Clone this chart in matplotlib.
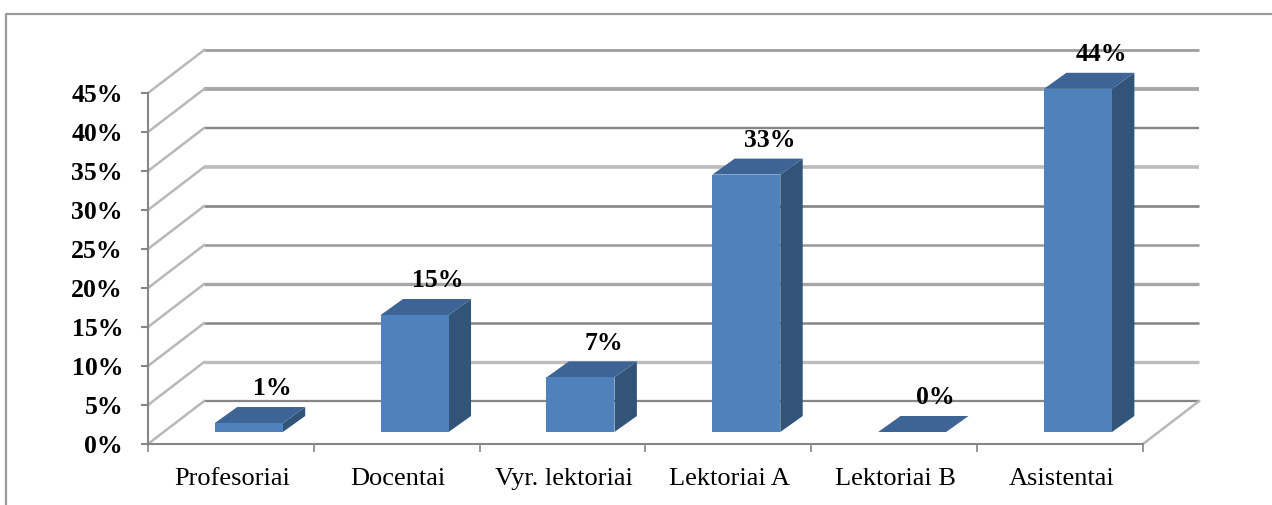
import matplotlib
matplotlib.use('Agg')
import matplotlib.pyplot as plt
from matplotlib.lines import Line2D

plt.rcParams['font.family'] = ['Liberation Serif', 'DejaVu Serif']

# Data
categories = ['Profesoriai', 'Docentai', 'Vyr. lektoriai', 'Lektoriai A', 'Lektoriai B', 'Asistentai']
values = [1.15, 15, 7, 33, 0, 44]
value_labels = ['1%', '15%', '7%', '33%', '0%', '44%']
y_ticks = [0, 5, 10, 15, 20, 25, 30, 35, 40, 45]

# the gridlines look uneven in the reference (resampled image)
grid_colors = ['#868686', '#bdbdbd', '#868686', '#a6a6a6', '#989898', '#858585', '#bcbcbc', '#858585', '#a8a8a8', '#9e9e9e']
grid_widths = [1.6, 2.4, 1.8, 2.4, 1.8, 1.9, 2.6, 1.7, 2.8, 2.0]

# Oblique offsets of the fake 3D, in data units
wall_dx, wall_dy = 0.338, 5.5
bar_shift, bar_lift = 0.108, 1.54
bar_width = 0.41
depth_dx, depth_dy = 0.135, 2.05

W, H = 1272, 505
fig = plt.figure(figsize=(W / 100, H / 100), dpi=100, facecolor='white')
ax = fig.add_axes([148 / W, 1 - 444 / H, (1143 - 148) / W, (444 - 93) / H])
ax.set_xlim(-0.5, 5.5)
ax.set_ylim(0, 45)
ax.patch.set_visible(False)

for s in ['top', 'right']:
    ax.spines[s].set_visible(False)
for s in ['left', 'bottom']:
    ax.spines[s].set_color('#868686')
    ax.spines[s].set_linewidth(1.5)

# Walls
for v, c, lw in zip(y_ticks, grid_colors, grid_widths):
    ax.plot([-0.5 + wall_dx, 5.5 + wall_dx], [v + wall_dy, v + wall_dy], color=c, lw=lw,
            clip_on=False, zorder=1, solid_capstyle='butt')
    ax.plot([-0.5, -0.5 + wall_dx], [v, v + wall_dy], color='#b8b8b8', lw=1.8,
            clip_on=False, zorder=1)
ax.plot([5.5, 5.5 + wall_dx], [0, wall_dy], color='#b8b8b8', lw=1.8, clip_on=False, zorder=1)

# Bars
for i, (v, lab) in enumerate(zip(values, value_labels)):
    x0 = i - bar_width / 2 + bar_shift
    x1 = i + bar_width / 2 + bar_shift
    y0 = bar_lift
    y1 = bar_lift + v
    # right side
    ax.fill([x1, x1 + depth_dx, x1 + depth_dx, x1],
            [y0, y0 + depth_dy, y1 + depth_dy, y1],
            color='#325479', lw=0, clip_on=False, zorder=3)
    # top
    ax.fill([x0, x1, x1 + depth_dx, x0 + depth_dx],
            [y1, y1, y1 + depth_dy, y1 + depth_dy],
            color='#3d6495', lw=0, clip_on=False, zorder=3)
    # front
    ax.fill([x0, x1, x1, x0], [y0, y0, y1, y1],
            color='#4f81bd', lw=0, clip_on=False, zorder=4)
    ax.annotate(lab, (i + bar_shift + depth_dx / 2, y1 + depth_dy),
                xytext=(8.5, 13), textcoords='offset points', ha='center', va='center',
                fontsize=18.5, fontweight='bold', color='black', zorder=5, annotation_clip=False)

# Axis ticks
ax.set_yticks(y_ticks)
ax.set_yticklabels([f'{t}%' for t in y_ticks], fontsize=18.5, fontweight='bold')
ax.tick_params(axis='y', length=5, width=1.5, color='#868686', pad=13)
ax.set_xticks([i - 0.5 for i in range(7)])
ax.set_xticklabels([])
ax.tick_params(axis='x', length=6, width=1.2, color='#868686')
for i, name in enumerate(categories):
    ax.annotate(name, (i, 0), xytext=(1, -25), textcoords='offset points',
                ha='center', va='center', fontsize=19, annotation_clip=False)

# Picture frame, open at right and bottom
fig.add_artist(Line2D([6 / W, 6 / W, 1], [0, 1 - 13.5 / H, 1 - 13.5 / H], color='#9a9a9a', lw=1.6))

fig.savefig('out.png', dpi=100, facecolor='white')
